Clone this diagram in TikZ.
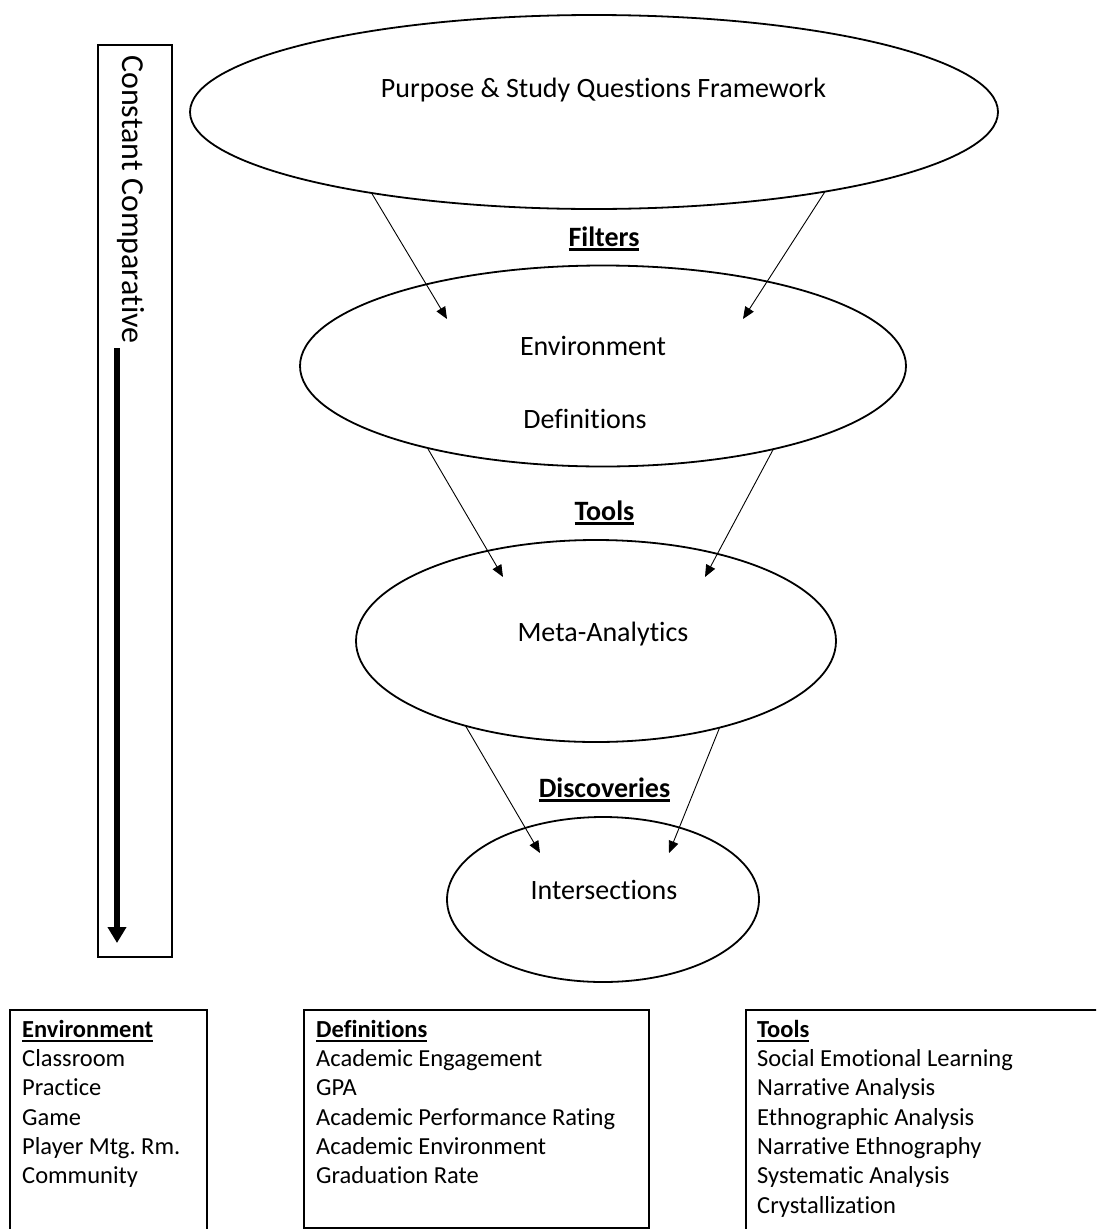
\documentclass[tikz,border=0pt]{standalone}
\usepackage{fontspec}
\setmainfont{Carlito}[Ligatures={NoCommon,NoContextual}]
\usetikzlibrary{arrows.meta,shapes.geometric}
\frenchspacing
\newcommand\ulbf[1]{\setbox0\hbox{\bfseries #1}\rlap{\rule[-4.5pt]{\wd0}{2.2pt}}\box0}
\begin{document}
\begin{tikzpicture}[x=1pt,y=-1pt,
  oval/.style={draw,ellipse,line width=1.8pt,inner sep=0pt,outer sep=0pt},
  lbl/.style={anchor=base,inner sep=0pt,font=\fontsize{28}{33.6}\selectfont},
  hdr/.style={anchor=base,inner sep=0pt,font=\fontsize{28}{33.6}\selectfont},
  flow/.style={line width=0.9pt,-{Triangle[length=12pt,width=10pt]}},
  listbox/.style={draw,line width=1.5pt,inner sep=0pt,anchor=north west},
  listtext/.style={anchor=north west,inner sep=0pt,align=left,font=\fontsize{24.5}{29.3}\selectfont}]
\useasboundingbox (0,0) rectangle (1096,1229);
\clip (0,0) rectangle (1096,1229);

% ellipses
\node[oval,minimum width=808pt,minimum height=194pt] (e1) at (594,112) {};
\node[oval,minimum width=606pt,minimum height=201pt] (e2) at (603,366) {};
\node[oval,minimum width=480pt,minimum height=202pt] (e3) at (596,641) {};
\node[oval,minimum width=312pt,minimum height=165pt] (e4) at (603,899.5) {};

% ellipse texts
\node[lbl] (t1) at (603.5,97) {Purpose \& Study Questions Framework};
\node[lbl] (t2a) at (593,355) {Environment};
\node[lbl] (t2b) at (585,428) {Definitions};
\node[lbl] (t3) at (603,641) {Meta-Analytics};
\node[lbl] (t4) at (604,899) {Intersections};

% stage labels
\node[hdr] (lf) at (604,246) {\ulbf{Filters}};
\node[hdr] (lt) at (604.5,520) {\ulbf{Tools}};
\node[hdr] (ld) at (604.5,797) {\ulbf{Discoveries}};

% arrow tips
\coordinate (h1l) at (447,319);
\coordinate (h1r) at (743,319);
\coordinate (h2l) at (503,577);
\coordinate (h2r) at (705,577);
\coordinate (h3l) at (540,853);
\coordinate (h3r) at (669,853);

\draw[flow] (e1.200.4) -- (h1l);
\draw[flow] (e1.341.5) -- (h1r);
\draw[flow] (e2.205.2) -- (h2l);
\draw[flow] (e2.334.6) -- (h2r);
\draw[flow] (e3.213.7) -- (h3l);
\draw[flow] (e3.325.6) -- (h3r);

% constant comparative box
\node[draw,line width=1.2pt,minimum width=74pt,minimum height=912pt,inner sep=0pt] (ccbox) at (135,501) {};
\node[rotate=-90,anchor=base west,inner sep=0pt,font=\fontsize{32}{38}\selectfont] (cc) at (122,55) {Constant Comparative};
\coordinate (ccstart) at (117,348);
\coordinate (ccend) at (117,943);
\draw[line width=6.5pt,-{Triangle[length=16pt,width=18pt]}] (ccstart) -- (ccend);

% bottom list boxes
\node[listbox,minimum width=197pt,minimum height=235pt] (envbox) at (9,1009) {};
\node[listbox,minimum width=345pt,minimum height=218pt] (defbox) at (303,1009) {};
\node[listbox,minimum width=365pt,minimum height=235pt] (toolbox) at (745,1009) {};

\node[listtext] (envtext) at (22,1017) {\rule{0pt}{20pt}\ulbf{Environment}\\Classroom\\Practice\\Game\\Player Mtg. Rm.\\Community};
\node[listtext] (deftext) at (316,1017) {\rule{0pt}{20pt}\ulbf{Definitions}\\Academic Engagement\\GPA\\Academic Performance Rating\\Academic Environment\\Graduation Rate};
\node[listtext] (tooltext) at (757,1017) {\rule{0pt}{20pt}\ulbf{Tools}\\Social Emotional Learning\\Narrative Analysis\\Ethnographic Analysis\\Narrative Ethnography\\Systematic Analysis\\Crystallization};
\end{tikzpicture}
\end{document}
